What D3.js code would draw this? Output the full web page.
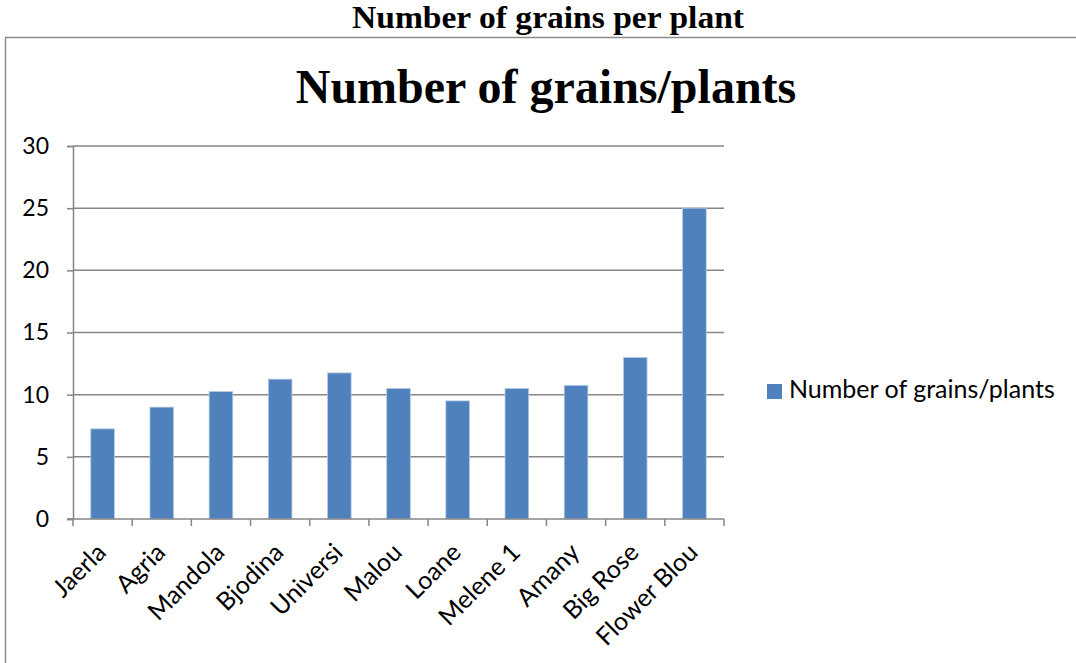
<!DOCTYPE html>
<html>
<head>
<meta charset="utf-8">
<script src="https://cdn.jsdelivr.net/npm/d3@7"></script>
<style>
  html, body { margin: 0; padding: 0; background: #fff; }
  svg { display: block; }
</style>
</head>
<body>
<svg id="chart" width="1076" height="663"></svg>
<script>
// Grain counts per variety
const varieties = ["Jaerla", "Agria", "Mandola", "Bjodina", "Universi", "Malou", "Loane", "Melene 1", "Amany", "Big Rose", "Flower Blou"];
const grains = [7.25, 9, 10.25, 11.25, 11.75, 10.5, 9.5, 10.5, 10.75, 13, 25];
const yTicks = [0, 5, 10, 15, 20, 25, 30];
const seriesName = "Number of grains/plants";
const pageTitle = "Number of grains per plant";

const svg = d3.select("#chart");
const labelFont = "Lato, 'Open Sans', sans-serif";
const serif = "'Liberation Serif', 'DejaVu Serif', serif";
const gridColor = "#868686";
const barColor = "#4F81BD";

// page heading above the chart frame
svg.append("text")
  .attr("x", 548).attr("y", 28)
  .attr("text-anchor", "middle")
  .attr("font-family", serif).attr("font-weight", "bold").attr("font-size", 31)
  .attr("textLength", 392).attr("lengthAdjust", "spacingAndGlyphs")
  .text(pageTitle);

// chart frame
svg.append("rect")
  .attr("x", 5.5).attr("y", 37.5).attr("width", 1090).attr("height", 640)
  .attr("fill", "none").attr("stroke", "#8c8c8c").attr("stroke-width", 1.5);

// chart title
svg.append("text")
  .attr("x", 546).attr("y", 103)
  .attr("text-anchor", "middle")
  .attr("font-family", serif).attr("font-weight", "bold").attr("font-size", 48)
  .text(seriesName);

const plot = { left: 73, right: 724, top: 146, bottom: 519 };

const x = d3.scaleBand().domain(varieties)
  .range([plot.left, plot.right]).paddingInner(0.6).paddingOuter(0.3);
const y = d3.scaleLinear().domain([0, 30]).range([plot.bottom, plot.top]);

// horizontal gridlines
svg.append("g").selectAll("line").data(yTicks.filter(d => d > 0)).join("line")
  .attr("x1", plot.left).attr("x2", plot.right)
  .attr("y1", d => y(d)).attr("y2", d => y(d))
  .attr("stroke", gridColor).attr("stroke-width", 1.5);

// y axis
const yAxis = svg.append("g").attr("transform", `translate(${plot.left},0)`)
  .call(d3.axisLeft(y).tickValues(yTicks).tickSize(6).tickPadding(18));
yAxis.select(".domain").attr("stroke", gridColor).attr("stroke-width", 1.5);
yAxis.selectAll(".tick line").attr("stroke", gridColor).attr("stroke-width", 1.5);
yAxis.selectAll(".tick text").attr("font-family", labelFont).attr("font-size", 23).attr("fill", "#000");

// bars
svg.append("g").selectAll("rect").data(varieties).join("rect")
  .attr("x", d => x(d))
  .attr("width", x.bandwidth())
  .attr("y", (d, i) => y(grains[i]))
  .attr("height", (d, i) => y(0) - y(grains[i]))
  .attr("fill", barColor)
  .attr("stroke", "#b9cde5").attr("stroke-width", 0.8);

// x axis: ticks at category boundaries
const boundaries = d3.range(varieties.length + 1).map(i => plot.left + i * x.step());
const xg = svg.append("g");
xg.append("line")
  .attr("x1", plot.left - 6).attr("x2", plot.right)
  .attr("y1", plot.bottom).attr("y2", plot.bottom)
  .attr("stroke", gridColor).attr("stroke-width", 1.5);
xg.selectAll("line.tick").data(boundaries).join("line").attr("class", "tick")
  .attr("x1", d => d).attr("x2", d => d)
  .attr("y1", plot.bottom).attr("y2", plot.bottom + 7)
  .attr("stroke", gridColor).attr("stroke-width", 1.5);

// rotated category labels
xg.selectAll("text").data(varieties).join("text")
  .attr("transform", d => `translate(${x(d) + x.bandwidth() / 2 + 5},${plot.bottom + 35}) rotate(-45)`)
  .attr("text-anchor", "end")
  .attr("font-family", labelFont).attr("font-size", 25).attr("fill", "#000")
  .text(d => d);

// legend
const lg = svg.append("g").attr("transform", "translate(767,384)");
lg.append("rect").attr("width", 15).attr("height", 15).attr("fill", barColor);
lg.append("text").attr("x", 22).attr("y", 14)
  .attr("font-family", labelFont).attr("font-size", 25).attr("fill", "#000")
  .text(seriesName);
</script>
</body>
</html>
